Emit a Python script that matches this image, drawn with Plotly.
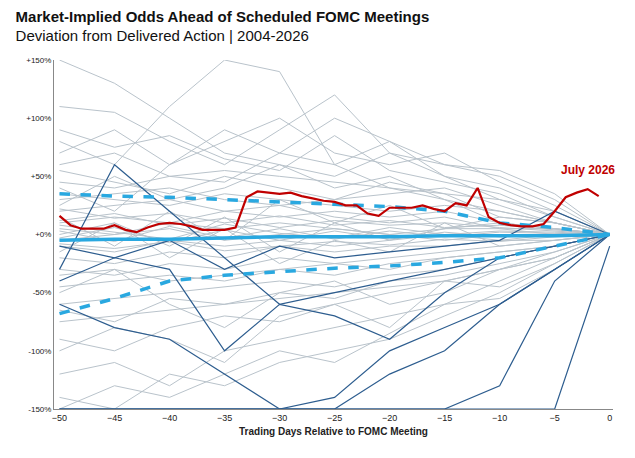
import plotly.graph_objects as go

# days for the sampled history lines
days5 = [-50, -45, -40, -35, -30, -25, -20, -15, -10, -5, 0]

# past meetings, deviation from delivered action (%), sampled every 5 days
gray_lines = [
    [110, 105, 80, 60, 90, 120, 70, 50, 40, 20, 0],
    [150, 130, 100, 70, 60, 40, 50, 30, 20, 10, 0],
    [80, 60, 110, 150, 140, 60, 40, 30, 10, 5, 0],
    [60, 70, 50, 45, 70, 60, 80, 50, 30, 20, 0],
    [45, 40, 50, 55, 50, 45, 40, 35, 30, 15, 0],
    [30, 35, 40, 30, 25, 30, 35, 40, 25, 10, 0],
    [20, 25, 30, 20, 15, 20, 15, 20, 10, 5, 0],
    [10, 15, 10, 20, 25, 15, 10, 15, 5, 5, 0],
    [5, 0, 10, 5, 10, 5, 0, 5, 5, 0, 0],
    [-5, 0, 5, -5, 0, 5, 0, -5, 0, 0, 0],
    [-10, -15, -5, -10, -5, -10, -5, 0, -5, 0, 0],
    [-20, -25, -15, -20, -10, -15, -10, -10, -5, -5, 0],
    [-30, -35, -25, -30, -20, -25, -20, -15, -10, -5, 0],
    [-45, -40, -35, -40, -30, -35, -25, -20, -15, -10, 0],
    [-60, -55, -50, -45, -40, -45, -35, -30, -20, -10, 0],
    [-75, -70, -65, -60, -55, -50, -45, -40, -30, -15, 0],
    [-90, -100, -80, -70, -75, -60, -50, -40, -30, -20, 0],
    [-120, -110, -130, -100, -90, -80, -70, -60, -40, -20, 0],
    [-140, -150, -120, -130, -110, -100, -90, -70, -50, -25, 0],
    [40, 20, 60, 90, 70, 100, 80, 60, 50, 30, 0],
    [70, 90, 60, 80, 100, 70, 60, 70, 45, 25, 0],
    [25, 50, 30, 40, 60, 50, 70, 60, 55, 35, 0],
    [-50, -30, -60, -80, -50, -40, -60, -50, -30, -20, 0],
    [-100, -80, -90, -110, -70, -60, -80, -40, -45, -25, 0],
    [15, -10, 20, -5, 30, 10, 25, 5, 15, 10, 0],
    [-15, 10, -20, 5, -25, -5, -15, 10, -10, -5, 0],
    [35, 30, 25, 35, 30, 25, 20, 25, 20, 10, 0],
    [-35, -30, -40, -35, -30, -25, -30, -20, -15, -10, 0],
    [0, 10, -10, 15, -15, 10, -5, 5, 10, 5, 0],
    [55, 45, 35, 50, 40, 30, 45, 35, 15, 10, 0],
    [-65, -75, -55, -60, -50, -55, -40, -35, -25, -15, 0],
    [90, 75, 85, 65, 55, 85, 55, 45, 35, 15, 0],
    [-150, -130, -140, -120, -100, -110, -85, -60, -55, -30, 0],
    [12, 18, 8, 14, 6, 12, 8, 10, 6, 3, 0],
    [-8, -12, -6, -14, -10, -6, -9, -4, -6, -2, 0],
    [22, 14, 18, 10, 16, 8, 12, 6, 8, 4, 0],
    [3, -6, 7, -3, 5, -4, 3, -2, 2, 1, 0],
    [-3, 6, -7, 4, -5, 3, -4, 2, -2, -1, 0],
    [8, 2, -4, 9, 1, -3, 6, 0, 3, 2, 0],
]

# dark blue highlighted meetings, sampled every 5 days
blue_lines = [
    [-30, 60, 20, -20, -60, -50, -40, -30, -20, -10, 0],
    [-60, -80, -90, -120, -150, -140, -100, -80, -60, -30, 0],
    [-150, -150, -150, -150, -150, -150, -150, -150, -130, -40, 0],
    [-150, -150, -150, -150, -150, -150, -120, -100, -60, -30, 0],
    [-40, -20, -30, -100, -60, -70, -90, -50, -20, -10, 0],
    [-10, -20, -5, -30, -10, -20, -15, -10, -5, 20, 0],
    [-150, -150, -150, -150, -150, -150, -150, -150, -150, -150, -10],
]

# July 2026 meeting, daily from -50 to -1
red_x = list(range(-50, 0))
red_y = [16, 8, 5, 5, 5, 8, 4, 2, 6, 9, 10, 9, 7, 4, 4, 4, 6, 32, 37, 36,
         35, 36, 33, 31, 29, 28, 25, 25, 18, 16, 23, 23, 23, 25, 22, 20, 27, 25,
         40, 15, 10, 8, 7, 7, 9, 20, 32, 32, 36, 39]
red_y = red_y[:46] + [32, 36, 39, 33]

# average and +/- 1 std bands, sampled every 5 days
mean_y = [-5, -4, -4, -3, -2, -2, -2, -1, -1, -1, 0]
upper_y = [35, 33, 32, 30, 28, 26, 24, 20, 10, 6, 0]
lower_y = [-68, -55, -40, -35, -32, -29, -27, -24, -20, -10, 0]

fig = go.Figure()
for ys in gray_lines:
    fig.add_trace(go.Scatter(x=days5, y=ys, mode="lines",
                             line=dict(color="#b9c3cb", width=1), hoverinfo="skip"))
for ys in blue_lines:
    fig.add_trace(go.Scatter(x=days5, y=ys, mode="lines",
                             line=dict(color="#2d5d8f", width=1.2), hoverinfo="skip"))
fig.add_trace(go.Scatter(x=days5, y=upper_y, mode="lines",
                         line=dict(color="#29a8e0", width=3.5, dash="dash")))
fig.add_trace(go.Scatter(x=days5, y=lower_y, mode="lines",
                         line=dict(color="#29a8e0", width=3.5, dash="dash")))
fig.add_trace(go.Scatter(x=days5, y=mean_y, mode="lines",
                         line=dict(color="#29a8e0", width=3.5)))
fig.add_trace(go.Scatter(x=red_x, y=red_y, mode="lines",
                         line=dict(color="#c00000", width=2.2)))

fig.add_annotation(x=-2, y=48, text="<b>July 2026</b>", showarrow=False,
                   xanchor="center", yanchor="bottom",
                   font=dict(color="#c00000", size=12))

fig.update_layout(
    width=635, height=458,
    margin=dict(l=46, r=30, t=52, b=57),
    paper_bgcolor="white", plot_bgcolor="white",
    showlegend=False,
    font=dict(family="Liberation Sans, Arial", color="#222"),
    title=dict(
        text="<b>Market-Implied Odds Ahead of Scheduled FOMC Meetings</b>"
             "<br><span style='font-size:15px'>Deviation from Delivered Action | 2004-2026</span>",
        x=0.012, xanchor="left", y=0.97, yanchor="top",
        font=dict(size=15, color="#111"),
    ),
    xaxis=dict(range=[-50.5, 0.3], tickvals=list(range(-50, 1, 5)),
               showgrid=False, zeroline=False, showline=True,
               linecolor="#888", ticks="", tickfont=dict(size=9),
               title=dict(text="<b>Trading Days Relative to FOMC Meeting</b>",
                          font=dict(size=10), standoff=6)),
    yaxis=dict(range=[-150, 150], tickvals=[-150, -100, -50, 0, 50, 100, 150],
               ticktext=["-150%", "-100%", "-50%", "+0%", "+50%", "+100%", "+150%"],
               showgrid=False, zeroline=False, showline=True,
               linecolor="#888", tickfont=dict(size=8)),
)

fig.write_html("out.html")
